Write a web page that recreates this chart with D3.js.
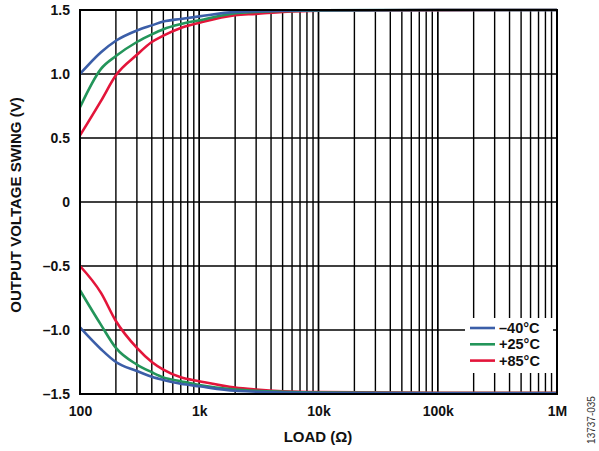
<!DOCTYPE html>
<html><head><meta charset="utf-8">
<script src="https://cdn.jsdelivr.net/npm/d3@7/dist/d3.min.js"></script>
<style>
body{margin:0;background:#fff;}
svg text{font-family:"Liberation Sans",Arial,sans-serif;}
</style></head>
<body><svg id="c" width="599" height="451"></svg>
<script>
const loads = [100, 150, 200, 300, 400, 500, 700, 1000, 2000, 3000, 5000, 10000, 100000, 1000000];
const highM40 = [1.0, 1.17, 1.26, 1.34, 1.38, 1.41, 1.43, 1.45, 1.485, 1.49, 1.495, 1.498, 1.5, 1.5];
const high25  = [0.74, 1.04, 1.14, 1.25, 1.31, 1.35, 1.39, 1.42, 1.475, 1.485, 1.492, 1.497, 1.5, 1.5];
const high85  = [0.52, 0.79, 0.99, 1.15, 1.25, 1.30, 1.36, 1.40, 1.46, 1.47, 1.485, 1.495, 1.499, 1.5];
const lowM40  = [-0.98, -1.15, -1.25, -1.32, -1.365, -1.39, -1.42, -1.44, -1.475, -1.482, -1.488, -1.492, -1.495, -1.495];
const low25   = [-0.69, -0.96, -1.14, -1.27, -1.33, -1.37, -1.40, -1.43, -1.465, -1.475, -1.482, -1.488, -1.492, -1.493];
const low85   = [-0.50, -0.71, -0.93, -1.14, -1.25, -1.31, -1.37, -1.40, -1.45, -1.465, -1.478, -1.485, -1.49, -1.49];
const seriesNames = ["\u201340\u00b0C", "+25\u00b0C", "+85\u00b0C"];
const seriesColors = ["#3b5ea8", "#23955a", "#e3153a"];
const xTickVals = [100, 1000, 10000, 100000, 1000000];
const xTickLabels = ["100", "1k", "10k", "100k", "1M"];
const yTickVals = [-1.5, -1.0, -0.5, 0, 0.5, 1.0, 1.5];
const yTickLabels = ["\u20131.5", "\u20131.0", "\u20130.5", "0", "0.5", "1.0", "1.5"];

const svg = d3.select("#c");
const L = 80, R = 557, T = 10, B = 394;
const x = d3.scaleLog().domain([100, 1e6]).range([L, R]);
const y = d3.scaleLinear().domain([-1.5, 1.5]).range([B, T]);

// grid
const minor = [];
for (let d = 100; d < 1e6; d *= 10) for (let k = 1; k <= 10; k++) minor.push(d * k);
const g = svg.append("g");
g.selectAll("line.v").data(minor).join("line")
  .attr("x1", d => x(d)).attr("x2", d => x(d)).attr("y1", T).attr("y2", B)
  .attr("stroke", "#000").attr("stroke-width", 1.4);
g.selectAll("line.h").data(yTickVals).join("line")
  .attr("x1", L).attr("x2", R).attr("y1", d => y(d)).attr("y2", d => y(d))
  .attr("stroke", "#000").attr("stroke-width", 1.4);

// curves
const line = d3.line().x(d => x(d[0])).y(d => y(d[1])).curve(d3.curveMonotoneX);
const highs = [highM40, high25, high85], lows = [lowM40, low25, low85];
[2, 1, 0].forEach(i => {
  [highs[i], lows[i]].forEach(arr => {
    svg.append("path").datum(loads.map((l, j) => [l, arr[j]]))
      .attr("d", line).attr("fill", "none").attr("stroke", seriesColors[i])
      .attr("stroke-width", 2.6).attr("stroke-linejoin", "round");
  });
});

// legend
svg.append("rect").attr("x", 465).attr("y", 318).attr("width", 88).attr("height", 55).attr("fill", "#fff");
seriesNames.forEach((n, i) => {
  const yy = 328 + i * 16.3;
  svg.append("line").attr("x1", 470).attr("x2", 495).attr("y1", yy).attr("y2", yy)
    .attr("stroke", seriesColors[i]).attr("stroke-width", 2.6);
  svg.append("text").attr("x", 499).attr("y", yy + 5).text(n)
    .attr("font-size", 14.5).attr("font-weight", "bold").attr("fill", "#111");
});

// frame
svg.append("rect").attr("x", L).attr("y", T).attr("width", R - L).attr("height", B - T)
  .attr("fill", "none").attr("stroke", "#000").attr("stroke-width", 2);

// axes
const xAxis = d3.axisBottom(x).tickValues(xTickVals).tickFormat((d, i) => xTickLabels[i]).tickSize(0).tickPadding(12);
const ax = svg.append("g").attr("transform", `translate(0,${B})`).call(xAxis);
ax.select(".domain").remove();
ax.selectAll("text").attr("font-size", 14).attr("font-weight", "bold").attr("fill", "#111")
  .attr("font-family", "Liberation Sans, Arial, sans-serif");
const yAxis = d3.axisLeft(y).tickValues(yTickVals).tickFormat((d, i) => yTickLabels[i]).tickSize(0).tickPadding(10);
const ay = svg.append("g").attr("transform", `translate(${L},0)`).call(yAxis);
ay.select(".domain").remove();
ay.selectAll("text").attr("font-size", 14).attr("font-weight", "bold").attr("fill", "#111")
  .attr("font-family", "Liberation Sans, Arial, sans-serif");

svg.append("text").attr("x", 318).attr("y", 442).attr("text-anchor", "middle")
  .attr("font-size", 15).attr("font-weight", "bold").attr("fill", "#111").text("LOAD (\u03a9)");
svg.append("text").attr("transform", "translate(21,205) rotate(-90)").attr("text-anchor", "middle")
  .attr("font-size", 15).attr("font-weight", "bold").attr("fill", "#111").text("OUTPUT VOLTAGE SWING (V)");
svg.append("text").attr("transform", "translate(595,420) rotate(-90)").attr("text-anchor", "middle")
  .attr("font-size", 10).attr("fill", "#333").text("13737-035");
</script></body></html>
